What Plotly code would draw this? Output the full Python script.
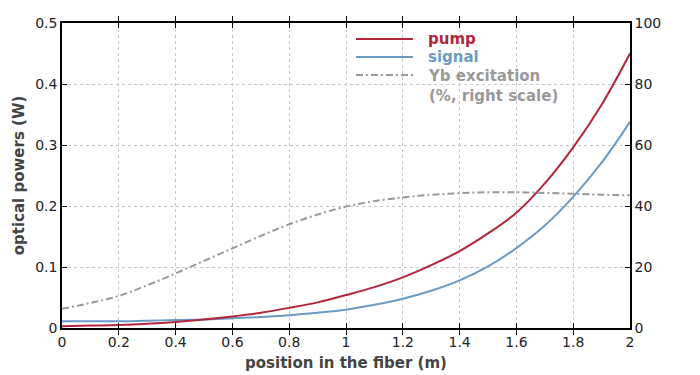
import plotly.graph_objects as go

position = [0.0, 0.1, 0.2, 0.3, 0.4, 0.5, 0.6, 0.7, 0.8, 0.9, 1.0,
            1.1, 1.2, 1.3, 1.4, 1.5, 1.6, 1.7, 1.8, 1.9, 2.0]
pump = [0.003, 0.004, 0.005, 0.007, 0.010, 0.014, 0.019, 0.025, 0.033, 0.042, 0.054,
        0.067, 0.083, 0.103, 0.126, 0.155, 0.189, 0.237, 0.296, 0.366, 0.450]
signal = [0.011, 0.011, 0.011, 0.012, 0.013, 0.014, 0.016, 0.018, 0.021, 0.025, 0.030,
          0.038, 0.048, 0.061, 0.078, 0.101, 0.131, 0.168, 0.215, 0.271, 0.338]
yb_excitation = [6.3, 8.2, 10.5, 14.0, 17.9, 22.0, 26.1, 30.2, 34.0, 37.2, 39.8,
                 41.6, 42.8, 43.7, 44.2, 44.5, 44.5, 44.3, 44.0, 43.7, 43.5]

PUMP_C = "#b2263a"
SIG_C = "#6b9bc3"
YB_C = "#999999"
FONT = "DejaVu Sans"

fig = go.Figure()
fig.add_trace(go.Scatter(x=position, y=yb_excitation, yaxis="y2", mode="lines",
                         line=dict(color=YB_C, width=2, dash="7px,3px,2px,3px", shape="spline"),
                         name="Yb excitation"))
fig.add_trace(go.Scatter(x=position, y=signal, mode="lines",
                         line=dict(color=SIG_C, width=2, shape="spline"), name="signal"))
fig.add_trace(go.Scatter(x=position, y=pump, mode="lines",
                         line=dict(color=PUMP_C, width=2, shape="spline"), name="pump"))

axis_common = dict(showline=True, linecolor="black", linewidth=1.5, ticks="inside",
                   ticklen=5, tickcolor="black", zeroline=False, automargin=False,
                   tickfont=dict(family=FONT, size=14, color="#222222"))

# page body has an 8px margin, so the figure is 8px smaller and margins shifted
fig.update_layout(
    width=692, height=367,
    margin=dict(l=54, r=70, t=15, b=47),
    plot_bgcolor="white", paper_bgcolor="white",
    showlegend=False,
    xaxis=dict(range=[0, 2], dtick=0.2, mirror="allticks", showgrid=True,
               gridcolor="#c8c8c8", griddash="3px,3px", gridwidth=1,
               title=dict(text="<b>position in the fiber (m)</b>", standoff=9,
                          font=dict(family=FONT, size=15, color="#444444")),
               **axis_common),
    yaxis=dict(range=[0, 0.5], dtick=0.1, showgrid=True, mirror=True,
               gridcolor="#c8c8c8", griddash="3px,3px", gridwidth=1,
               tickformat="~g",
               title=dict(text="<b>optical powers (W)</b>", standoff=7,
                          font=dict(family=FONT, size=15, color="#444444")),
               **axis_common),
    yaxis2=dict(range=[0, 100], dtick=20, overlaying="y", side="right",
                showgrid=False, **axis_common),
)

# manual legend (positions in reference pixel coordinates)
legend_items = [
    ("pump", PUMP_C, "solid", 0),
    ("signal", SIG_C, "solid", 1),
    ("Yb excitation<br>(%, right scale)", YB_C, "7px,3px,2px,3px", 2),
]
x0_px, x1_px, xt_px = 356, 413, 426
top_px = 39
step = 18
plot_l, plot_w, plot_t, plot_h = 62, 568, 23, 305
for text, color, dash, i in legend_items:
    ypx = top_px + i * step
    yp = 1 - (ypx - plot_t) / plot_h
    fig.add_shape(type="line", xref="paper", yref="paper",
                  x0=(x0_px - plot_l) / plot_w, x1=(x1_px - plot_l) / plot_w,
                  y0=yp, y1=yp, line=dict(color=color, width=2, dash=dash))
    fig.add_annotation(xref="paper", yref="paper", x=(xt_px - plot_l) / plot_w, y=yp,
                       xanchor="left", yanchor="top" if "<br>" in text else "middle",
                       yshift=10 if "<br>" in text else 0,
                       text=f"<b>{text}</b>", showarrow=False, align="left",
                       font=dict(family=FONT, size=15, color=color))

fig.write_html("out.html")
